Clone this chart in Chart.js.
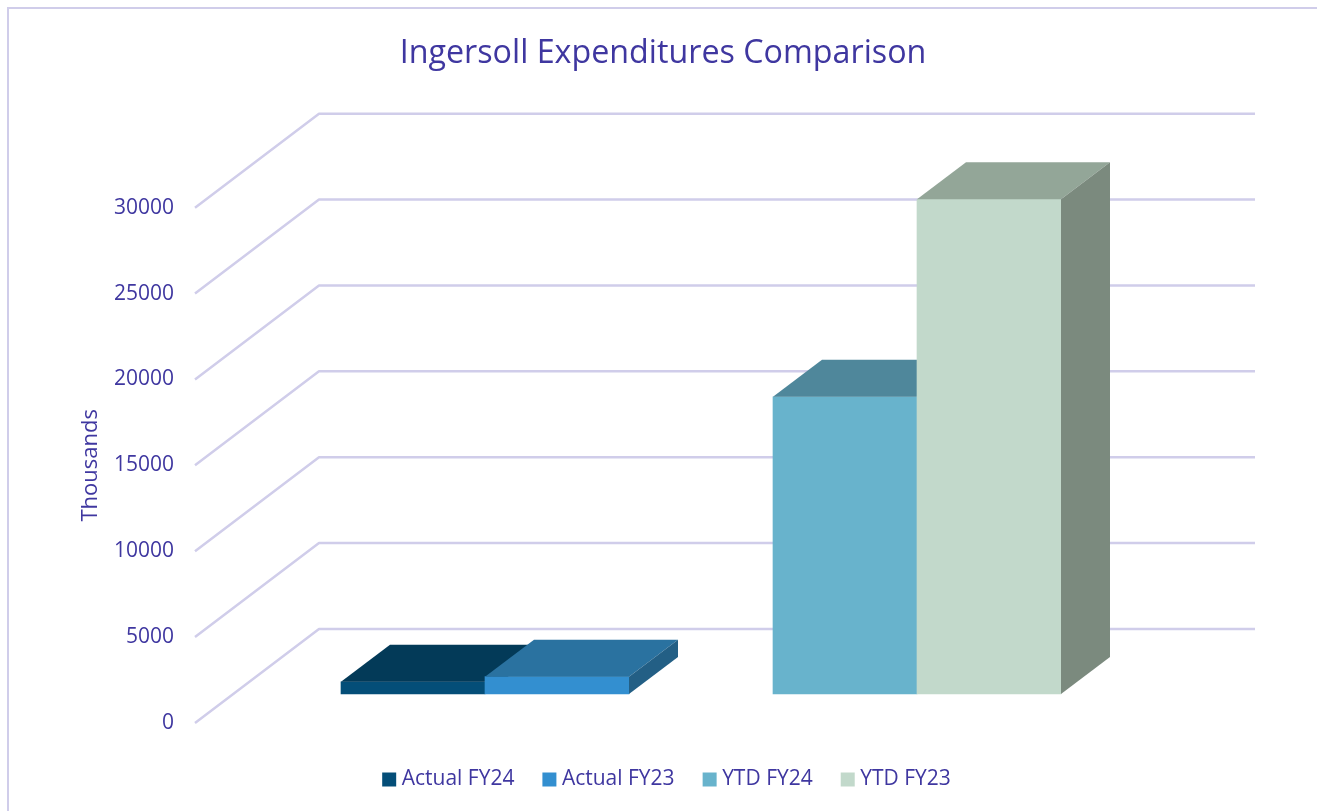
<!DOCTYPE html>
<html>
<head>
<meta charset="utf-8">
<title>Ingersoll Expenditures Comparison</title>
<script src="https://cdn.jsdelivr.net/npm/chart.js@4"></script>
<style>
  body { margin: 0; background: #fff; }
  #frame { position: absolute; left: 7px; top: 7px; right: 0; bottom: 0; border-top: 2px solid #d0cdea; border-left: 2px solid #d0cdea; }
  canvas { position: absolute; left: 0; top: 0; }
</style>
</head>
<body>
<div id="frame"></div>
<canvas id="chart" width="1317" height="811"></canvas>
<script>
// Values
const slots = ['Actual FY24', 'Actual FY23', '', 'YTD FY24', 'YTD FY23'];
const seriesNames = ['Actual FY24', 'Actual FY23', 'YTD FY24', 'YTD FY23'];
const seriesValues = [710, 1010, 17300, 28800];
const tickStep = 5000;
const tickMax = 30000;

const frontColors = ['#044e78', '#338fd0', '#68b3cc', '#c2d9cb'];
const topColors = ['#033a58', '#2a72a0', '#4f879b', '#93a698'];
const sideColors = ['#023048', '#235f85', '#42707f', '#7b8a7e'];

const textColor = '#3f37a0';
const fontFamily = '"Open Sans", sans-serif';

// 3D look: the floor runs from the front edge back to the wall
const wall = { left: 195, depthX: 124, depthY: 94, right: 1255, color: '#d0cdea' };
const barLift = 29;
const barDepth = { x: 49, y: 37 };
const legendShift = { x: 12, y: 13 };

const wallPlugin = {
  id: 'wall',
  afterLayout(chart) {
    // the legend sits lower than its box would put it
    chart.legend.left += legendShift.x;
    chart.legend.top += legendShift.y;
  },
  beforeDatasetsDraw(chart) {
    const ctx = chart.ctx;
    const yScale = chart.scales.y;
    ctx.save();
    ctx.strokeStyle = wall.color;
    ctx.lineWidth = 2.5;
    ctx.lineJoin = 'round';
    yScale.ticks.forEach(t => {
      const py = yScale.getPixelForValue(t.value);
      ctx.beginPath();
      ctx.moveTo(wall.left, py);
      ctx.lineTo(wall.left + wall.depthX, py - wall.depthY);
      ctx.lineTo(wall.right, py - wall.depthY);
      ctx.stroke();
    });
    ctx.restore();
  }
};

const solidPlugin = {
  id: 'solid',
  beforeDatasetDraw(chart) {
    chart.ctx.save();
    chart.ctx.translate(0, -barLift);
  },
  afterDatasetDraw(chart, args) {
    const ctx = chart.ctx;
    const i = args.index;
    args.meta.data.forEach(bar => {
      if (bar.skip) return;
      const left = bar.x - bar.width / 2;
      const right = bar.x + bar.width / 2;
      // top face
      ctx.fillStyle = topColors[i];
      ctx.beginPath();
      ctx.moveTo(left, bar.y);
      ctx.lineTo(left + barDepth.x, bar.y - barDepth.y);
      ctx.lineTo(right + barDepth.x, bar.y - barDepth.y);
      ctx.lineTo(right, bar.y);
      ctx.closePath();
      ctx.fill();
      // right face
      ctx.fillStyle = sideColors[i];
      ctx.beginPath();
      ctx.moveTo(right, bar.y);
      ctx.lineTo(right + barDepth.x, bar.y - barDepth.y);
      ctx.lineTo(right + barDepth.x, bar.base - barDepth.y);
      ctx.lineTo(right, bar.base);
      ctx.closePath();
      ctx.fill();
    });
    ctx.restore();
  }
};

new Chart(document.getElementById('chart'), {
  type: 'bar',
  data: {
    labels: slots,
    datasets: seriesNames.map((name, i) => ({
      label: name,
      data: [{ x: name, y: seriesValues[i] }],
      backgroundColor: frontColors[i],
      grouped: false,
      barPercentage: 1,
      categoryPercentage: 1,
      order: seriesNames.length - i, // later series sit in front
      clip: false
    }))
  },
  options: {
    responsive: false,
    animation: false,
    layout: { padding: { left: 9, bottom: 24 } },
    plugins: {
      title: {
        display: true,
        text: 'Ingersoll Expenditures Comparison',
        color: textColor,
        font: { family: fontFamily, size: 32.25, weight: 'normal' },
        padding: { top: 34, bottom: 135 }
      },
      tooltip: { enabled: false },
      legend: {
        position: 'bottom',
        labels: {
          color: textColor,
          font: { family: fontFamily, size: 21, lineHeight: 1 },
          boxWidth: 4,
          boxHeight: 4,
          padding: 33,
          generateLabels: chart => chart.data.datasets.map((d, i) => ({
            text: d.label,
            fillStyle: frontColors[i],
            strokeStyle: frontColors[i],
            lineWidth: 10,
            fontColor: textColor,
            datasetIndex: i
          }))
        }
      }
    },
    scales: {
      x: { display: false },
      y: {
        min: 0,
        max: tickMax,
        grid: { display: false, tickLength: 167 },
        border: { display: false },
        ticks: {
          stepSize: tickStep,
          color: textColor,
          padding: 0,
          font: { family: fontFamily, size: 21 },
          format: { useGrouping: false }
        },
        title: {
          display: true,
          text: 'Thousands',
          color: textColor,
          font: { family: fontFamily, size: 22 },
          padding: { top: 69, bottom: 0 }
        },
        afterFit(scale) { scale.width = 332; }
      },
      rightMargin: {
        position: 'right',
        grid: { display: false, drawTicks: false },
        border: { display: false },
        ticks: { display: false },
        afterFit(scale) { scale.width = 256; }
      }
    }
  },
  plugins: [wallPlugin, solidPlugin]
});
</script>
</body>
</html>
